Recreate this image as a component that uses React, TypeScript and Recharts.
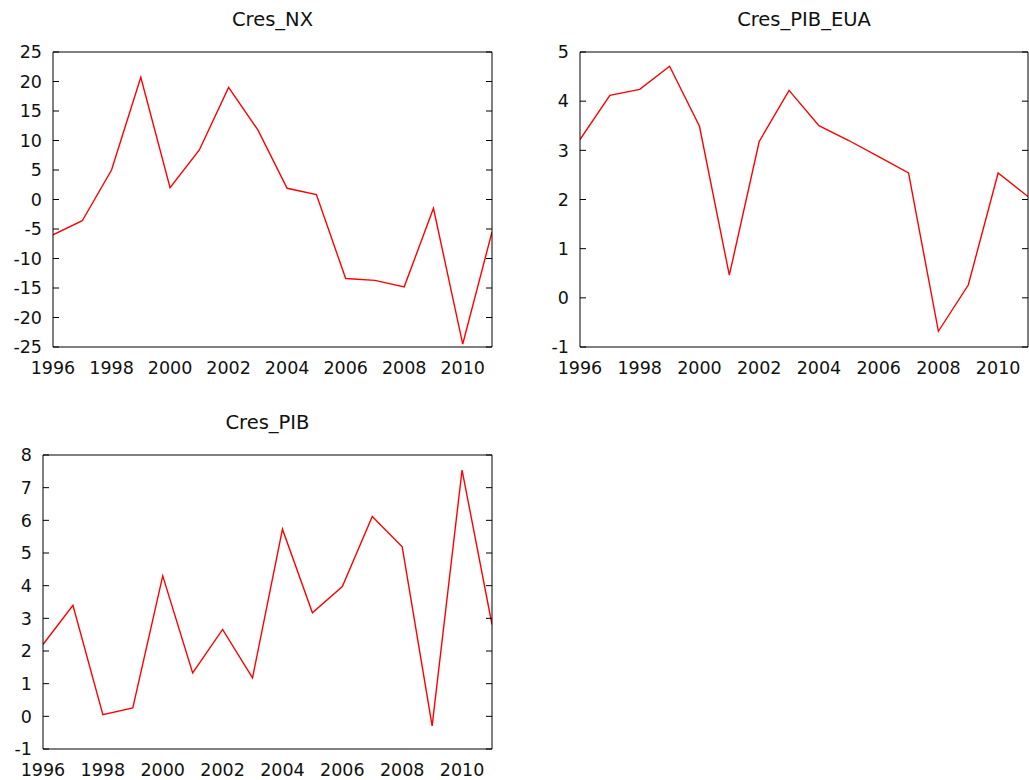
import { LineChart, Line, XAxis, YAxis } from "recharts"

const years = [1996, 1997, 1998, 1999, 2000, 2001, 2002, 2003, 2004, 2005, 2006, 2007, 2008, 2009, 2010, 2011]
const yearTicks = [1996, 1998, 2000, 2002, 2004, 2006, 2008, 2010]

const cresNX = [-6.0, -3.6, 5.0, 20.7, 2.0, 8.4, 19.0, 11.8, 1.9, 0.85, -13.4, -13.7, -14.8, -1.5, -24.5, -5.5]
const cresPibEua = [3.22, 4.12, 4.24, 4.71, 3.49, 0.46, 3.18, 4.22, 3.5, 3.2, 2.87, 2.54, -0.68, 0.26, 2.54, 2.06]
const cresPib = [2.2, 3.4, 0.05, 0.26, 4.3, 1.33, 2.66, 1.18, 5.73, 3.17, 3.97, 6.12, 5.19, -0.29, 7.54, 2.81]

const nxTicks = [-25, -20, -15, -10, -5, 0, 5, 10, 15, 20, 25]
const euaTicks = [-1, 0, 1, 2, 3, 4, 5]
const pibTicks = [-1, 0, 1, 2, 3, 4, 5, 6, 7, 8]

const FONT = "'DejaVu Sans', Verdana, sans-serif"
const tickStyle = { fontSize: 17.5, fill: "#111", fontFamily: FONT }
const frame = { stroke: "#000", strokeWidth: 1 }
const noLabel = () => <g />

interface PanelProps {
  title: string
  values: number[]
  yTicks: number[]
  left: number
  top: number
  width: number
  height: number
  yAxisWidth: number
  xAxisHeight: number
  marginTop: number
  marginRight: number
  titleTop: number
}

function Panel(p: PanelProps) {
  const data = years.map((year, i) => ({ year, v: p.values[i] }))
  const yDomain = [p.yTicks[0], p.yTicks[p.yTicks.length - 1]]
  const xDomain = [1996, 2011]
  const plotLeft = p.yAxisWidth
  const plotRight = p.width - p.marginRight
  return (
    <>
      <div
        style={{
          position: "absolute",
          left: p.left + plotLeft,
          width: plotRight - plotLeft,
          top: p.titleTop,
          textAlign: "center",
          fontFamily: FONT,
          fontSize: 19.5,
          lineHeight: "19.5px",
          color: "#111",
        }}
      >
        {p.title}
      </div>
      <div style={{ position: "absolute", left: p.left, top: p.top }}>
        <LineChart
          width={p.width}
          height={p.height}
          data={data}
          margin={{ top: p.marginTop, right: p.marginRight, bottom: 0, left: 0 }}
        >
          <XAxis
            dataKey="year"
            type="number"
            domain={xDomain}
            allowDataOverflow
            ticks={yearTicks}
            interval={0}
            height={p.xAxisHeight}
            axisLine={false}
            tickLine={false}
            tickSize={0}
            tickMargin={15}
            tick={tickStyle}
          />
          <XAxis
            xAxisId="bt"
            type="number"
            domain={xDomain}
            allowDataOverflow
            ticks={yearTicks}
            interval={0}
            mirror
            axisLine={frame}
            tickLine={frame}
            tickSize={6}
            tick={noLabel}
          />
          <XAxis
            xAxisId="tp"
            orientation="top"
            type="number"
            domain={xDomain}
            allowDataOverflow
            ticks={yearTicks}
            interval={0}
            mirror
            axisLine={frame}
            tickLine={frame}
            tickSize={6}
            tick={noLabel}
          />
          <YAxis
            type="number"
            domain={yDomain}
            allowDataOverflow
            ticks={p.yTicks}
            interval={0}
            width={p.yAxisWidth}
            axisLine={false}
            tickLine={false}
            tickSize={0}
            tickMargin={11}
            tick={tickStyle}
          />
          <YAxis
            yAxisId="lf"
            type="number"
            domain={yDomain}
            allowDataOverflow
            ticks={p.yTicks}
            interval={0}
            mirror
            axisLine={frame}
            tickLine={frame}
            tickSize={6}
            tick={noLabel}
          />
          <YAxis
            yAxisId="rt"
            orientation="right"
            type="number"
            domain={yDomain}
            allowDataOverflow
            ticks={p.yTicks}
            interval={0}
            mirror
            axisLine={frame}
            tickLine={frame}
            tickSize={6}
            tick={noLabel}
          />
          <Line
            dataKey="v"
            stroke="#ff0000"
            strokeWidth={1.4}
            dot={false}
            isAnimationActive={false}
          />
        </LineChart>
      </div>
    </>
  )
}

export default function App() {
  return (
    <div style={{ position: "absolute", left: 0, top: 0, width: 1029, height: 780, background: "#fff" }}>
      <Panel
        title="Cres_NX"
        values={cresNX}
        yTicks={nxTicks}
        left={0}
        top={0}
        width={500}
        height={390}
        yAxisWidth={53}
        xAxisHeight={43}
        marginTop={52}
        marginRight={8}
        titleTop={10}
      />
      <Panel
        title="Cres_PIB_EUA"
        values={cresPibEua}
        yTicks={euaTicks}
        left={510}
        top={0}
        width={519}
        height={390}
        yAxisWidth={70}
        xAxisHeight={43}
        marginTop={52}
        marginRight={1}
        titleTop={10}
      />
      <Panel
        title="Cres_PIB"
        values={cresPib}
        yTicks={pibTicks}
        left={0}
        top={400}
        width={500}
        height={380}
        yAxisWidth={43}
        xAxisHeight={31}
        marginTop={55}
        marginRight={8}
        titleTop={413}
      />
    </div>
  )
}
